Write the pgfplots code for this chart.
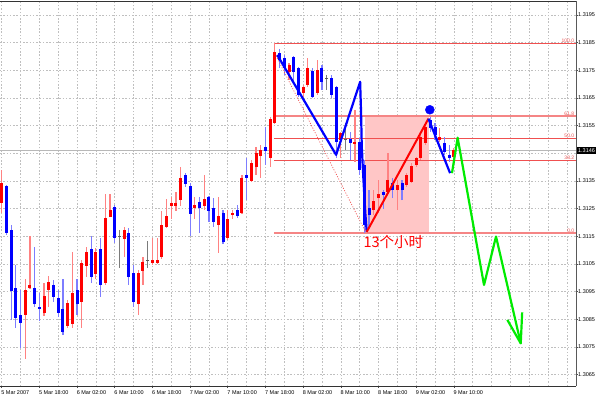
\documentclass[border=0pt]{standalone}
\usepackage{pgfplots}
\pgfplotsset{compat=1.18}
\usepackage{pgfplotstable}
\usepackage{fontspec}
\setmainfont{Liberation Sans}
\newfontfamily\cjk{Noto Sans CJK SC}
\definecolor{upc}{RGB}{255,0,0}
\definecolor{upw}{RGB}{255,130,130}
\definecolor{dnc}{RGB}{0,0,255}
\definecolor{dnw}{RGB}{125,125,255}
\definecolor{djc}{RGB}{90,90,90}
\definecolor{fib}{RGB}{240,80,80}
\definecolor{fibtxt}{RGB}{235,85,85}
\definecolor{pinkz}{RGB}{255,198,198}
\definecolor{grn}{RGB}{0,235,0}

\pgfplotstableread{
i o h l c
0 1.31270 1.31390 1.31234 1.31343
5 1.30866 1.30996 1.30707 1.30956
6 1.30963 1.31151 1.30960 1.30974
9 1.30873 1.30981 1.30862 1.30934
10 1.30956 1.31007 1.30895 1.30985
14 1.30826 1.30920 1.30819 1.30909
15 1.30833 1.31093 1.30819 1.30945
17 1.30913 1.31064 1.30819 1.31054
18 1.31043 1.31111 1.31003 1.31093
20 1.31014 1.31108 1.30996 1.31093
22 1.30981 1.31303 1.30974 1.31216
23 1.31220 1.31303 1.31218 1.31245
26 1.31140 1.31184 1.31075 1.31173
29 1.30905 1.31028 1.30866 1.31017
30 1.31025 1.31075 1.30974 1.31057
32 1.31054 1.31144 1.31046 1.31064
33 1.31054 1.31144 1.31050 1.31064
34 1.31075 1.31242 1.31068 1.31191
35 1.31184 1.31285 1.31180 1.31223
36 1.31260 1.31292 1.31213 1.31270
37 1.31260 1.31310 1.31242 1.31270
38 1.31281 1.31401 1.31260 1.31361
41 1.31252 1.31292 1.31213 1.31263
43 1.31260 1.31372 1.31245 1.31285
46 1.31191 1.31292 1.31090 1.31223
48 1.31144 1.31245 1.31137 1.31213
49 1.31227 1.31245 1.31213 1.31234
51 1.31234 1.31372 1.31231 1.31361
53 1.31350 1.31426 1.31346 1.31415
54 1.31401 1.31473 1.31372 1.31451
55 1.31440 1.31480 1.31361 1.31462
57 1.31433 1.31581 1.31401 1.31574
58 1.31560 1.31849 1.31557 1.31816
61 1.31744 1.31776 1.31715 1.31769
64 1.31668 1.31697 1.31653 1.31690
65 1.31697 1.31794 1.31690 1.31758
67 1.31668 1.31787 1.31661 1.31751
72 1.31498 1.31527 1.31433 1.31523
75 1.31484 1.31607 1.31419 1.31491
79 1.31245 1.31317 1.31227 1.31278
80 1.31288 1.31354 1.31234 1.31303
82 1.31310 1.31451 1.31307 1.31354
84 1.31317 1.31354 1.31245 1.31335
86 1.31335 1.31379 1.31328 1.31372
87 1.31346 1.31415 1.31343 1.31404
88 1.31408 1.31437 1.31401 1.31433
89 1.31433 1.31523 1.31426 1.31509
90 1.31487 1.31560 1.31480 1.31545
93 1.31498 1.31541 1.31491 1.31509
96 1.31437 1.31469 1.31426 1.31462
}\upT

\pgfplotstableread{
i o h l c
1 1.31332 1.31335 1.31155 1.31162
2 1.31173 1.31191 1.30848 1.30952
3 1.30963 1.31046 1.30819 1.30855
4 1.30866 1.30956 1.30746 1.30837
7 1.30963 1.31111 1.30895 1.30905
8 1.30895 1.30945 1.30844 1.30887
11 1.30974 1.30992 1.30913 1.30931
12 1.30927 1.30956 1.30858 1.30873
13 1.30887 1.30996 1.30793 1.30804
16 1.30956 1.30996 1.30866 1.30905
19 1.31104 1.31151 1.30981 1.31003
21 1.31104 1.31144 1.30931 1.30974
24 1.31256 1.31263 1.31126 1.31144
27 1.31162 1.31180 1.30974 1.31003
28 1.31017 1.31046 1.30895 1.30913
39 1.31372 1.31379 1.31328 1.31339
40 1.31332 1.31343 1.31151 1.31231
42 1.31274 1.31292 1.31162 1.31252
44 1.31292 1.31295 1.31202 1.31242
45 1.31252 1.31288 1.31184 1.31202
47 1.31234 1.31245 1.31122 1.31129
50 1.31245 1.31263 1.31216 1.31223
52 1.31372 1.31433 1.31281 1.31361
56 1.31473 1.31545 1.31408 1.31458
59 1.31813 1.31827 1.31758 1.31787
60 1.31794 1.31805 1.31733 1.31758
62 1.31798 1.31802 1.31704 1.31744
63 1.31758 1.31762 1.31653 1.31661
66 1.31747 1.31758 1.31650 1.31653
68 1.31758 1.31769 1.31679 1.31708
70 1.31722 1.31733 1.31650 1.31661
71 1.31690 1.31693 1.31433 1.31491
74 1.31502 1.31527 1.31426 1.31487
76 1.31491 1.31505 1.31372 1.31390
77 1.31408 1.31426 1.31162 1.31191
78 1.31252 1.31317 1.31180 1.31227
81 1.31310 1.31317 1.31249 1.31299
83 1.31343 1.31361 1.31288 1.31317
85 1.31343 1.31354 1.31281 1.31317
91 1.31570 1.31581 1.31527 1.31541
92 1.31545 1.31560 1.31498 1.31516
94 1.31487 1.31509 1.31444 1.31455
95 1.31444 1.31480 1.31419 1.31433
}\downT

\pgfplotstableread{
i o h l c
25 1.31151 1.31173 1.31036 1.31151
31 1.31061 1.31133 1.31036 1.31061
69 1.31719 1.31733 1.31679 1.31719
73 1.31498 1.31560 1.31462 1.31498
}\dojiT

\pgfplotsset{
  candle/.style 2 args={draw=none, mark=none, error bars/.cd, y dir=plus, y explicit, error mark=none,
    error bar style={draw=#1, line width=#2, solid}},
}

\begin{document}
\begin{tikzpicture}
\useasboundingbox (0,0) rectangle (600pt,400pt);
\begin{axis}[
  at={(0pt,14pt)}, anchor=south west,
  width=576pt, height=385pt, scale only axis,
  xmin=-0.36, xmax=121.93,
  ymin=1.30609, ymax=1.32000,
  clip mode=individual,
  separate axis lines,
  x axis line style={black!80, line width=0.8pt},
  y axis line style={draw=none},
  xtick={0,8,...,96},
  xticklabels={5 Mar 2007,5 Mar 18:00,6 Mar 02:00,6 Mar 10:00,6 Mar 18:00,7 Mar 02:00,7 Mar 10:00,7 Mar 18:00,8 Mar 02:00,8 Mar 10:00,8 Mar 18:00,9 Mar 02:00,9 Mar 10:00},
  minor xtick={4,8,...,120},
  ytick={1.3065,1.3075,1.3085,1.3095,1.3105,1.3115,1.3125,1.3135,1.3145,1.3155,1.3165,1.3175,1.3185,1.3195},
  yticklabels={1.3065,1.3075,1.3085,1.3095,1.3105,1.3115,1.3125,1.3135,,1.3155,1.3165,1.3175,1.3185,1.3195},
  xtick pos=left, ytick pos=right, yticklabel pos=right,
  tick align=outside,
  major tick length=2pt, minor tick length=0pt,
  tick style={black!70, line width=0.6pt},
  grid=both,
  major grid style={black!25, dash pattern=on 1.5pt off 1.8pt, line width=0.6pt},
  minor grid style={black!25, dash pattern=on 1.5pt off 1.8pt, line width=0.6pt},
  xticklabel style={font=\fontsize{5.5}{6}\selectfont, anchor=north west, inner sep=0pt, xshift=-0.5pt, yshift=-2pt},
  yticklabel style={font=\fontsize{5.5}{6}\selectfont, anchor=west, inner sep=0pt, xshift=0pt},
]
% current price line
\addplot[black!28, line width=0.8pt] coordinates {(-1,1.3146) (125,1.3146)};
% pink zone
\addplot[fill=pinkz, draw=none] coordinates {(77.1,1.31162) (90.7,1.31162) (90.7,1.31585) (77.1,1.31585)} -- cycle;
% fibonacci levels
\addplot[fib, line width=1.2pt] coordinates {(57.8,1.31846) (122,1.31846)};
\addplot[fib!70, line width=1.3pt] coordinates {(57.8,1.31585) (122,1.31585)};
\addplot[fib, line width=1pt] coordinates {(57.8,1.31505) (122,1.31505)};
\addplot[fib, line width=1pt] coordinates {(57.8,1.31423) (122,1.31423)};
\addplot[fib!70, line width=1.3pt] coordinates {(57.8,1.31162) (122,1.31162)};
% wicks
\addplot[candle={upw}{1.2pt}]
  table[x=i, y=l, y error plus expr=\thisrow{h}-\thisrow{l}] {\upT};
\addplot[candle={dnw}{1.2pt}]
  table[x=i, y=l, y error plus expr=\thisrow{h}-\thisrow{l}] {\downT};
\addplot[candle={djc!80}{1.2pt}]
  table[x=i, y=l, y error plus expr=\thisrow{h}-\thisrow{l}] {\dojiT};
% bodies
\addplot[candle={upc}{3pt}]
  table[x=i, y=o, y error plus expr=\thisrow{c}-\thisrow{o}] {\upT};
\addplot[candle={dnc}{3pt}]
  table[x=i, y=c, y error plus expr=\thisrow{o}-\thisrow{c}] {\downT};
\addplot[only marks, mark=-, mark size=1.6pt, djc, mark options={line width=0.9pt}]
  table[x=i, y=o] {\dojiT};
% dotted trend line
\addplot[fib, line width=0.7pt, dash pattern=on 1pt off 1.6pt] coordinates {(58.24,1.31802) (77.25,1.31166)};
% zigzags
\addplot[dnc, line width=2.2pt, line join=round] coordinates {(58.5,1.31805) (71.0,1.31444) (76.1,1.31708) (76.3,1.31596) (76.45,1.31473) (76.8,1.31354) (77.2,1.31234) (77.5,1.31166)};
\addplot[upc, line width=2pt] coordinates {(77.5,1.31166) (90.6,1.31575)};
\addplot[dnc, line width=2.2pt, line join=round] coordinates {(90.6,1.31575) (95.2,1.31378)};
\addplot[grn, line width=2.2pt, line join=round] coordinates {(95.6,1.31378) (96.8,1.31506) (102.4,1.30974) (104.95,1.31149) (110.2,1.30763)};
\addplot[grn, line width=2.2pt, line join=round] coordinates {(107.35,1.30848) (110.2,1.30763) (110.5,1.30875)};
\addplot[only marks, mark=*, mark size=4.5pt, dnc] coordinates {(90.9,1.31607)};
% texts
\node[anchor=base west, inner sep=0pt, text=upc, font=\cjk\fontsize{14.5}{15}\selectfont] at (axis cs:76.8,1.31111) {13个小时};
\node[anchor=south east, inner sep=0.6pt, text=fibtxt, font=\fontsize{5}{5.5}\selectfont] at (axis cs:121.72,1.31848) {100.0};
\node[anchor=south east, inner sep=0.6pt, text=fibtxt, font=\fontsize{5}{5.5}\selectfont] at (axis cs:121.72,1.31585) {61.8};
\node[anchor=south east, inner sep=0.6pt, text=fibtxt, font=\fontsize{5}{5.5}\selectfont] at (axis cs:121.72,1.31505) {50.0};
\node[anchor=south east, inner sep=0.6pt, text=fibtxt, font=\fontsize{5}{5.5}\selectfont] at (axis cs:121.72,1.31423) {38.2};
\node[anchor=south east, inner sep=0.6pt, text=fibtxt, font=\fontsize{5}{5.5}\selectfont] at (axis cs:121.72,1.31162) {0.0};
\draw[black!65, line width=0.7pt] (rel axis cs:1,0) -- (rel axis cs:1,1);
\node[anchor=west, fill=black, text=white, inner sep=1.3pt, xshift=0.6pt, font=\fontsize{5.5}{6}\selectfont] at (axis cs:121.93,1.3146) {1.3146};
\end{axis}
\end{tikzpicture}
\end{document}
